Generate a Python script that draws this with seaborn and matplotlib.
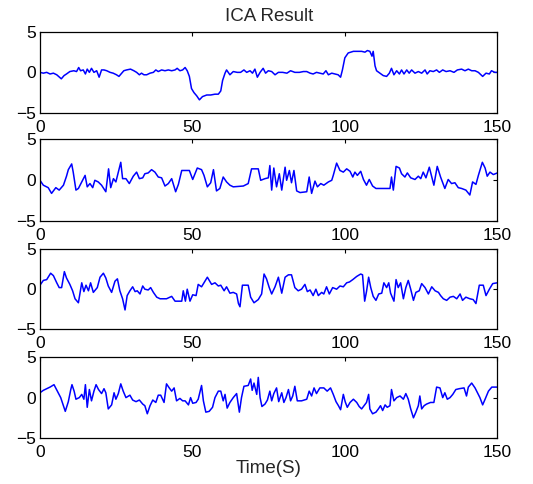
import numpy as np
import pandas as pd
import matplotlib
matplotlib.use("Agg")
import matplotlib.pyplot as plt
import seaborn as sns

sns.set_style("white")
plt.rcParams['font.family'] = ['Liberation Sans', 'DejaVu Sans']

# component 1: two block events
t1 = [0, 1.1, 2.2, 3.3, 4.4, 5.5, 7.0, 7.9, 8.7, 9.8, 11.1, 12.0, 12.7, 13.3, 14.2, 14.9, 15.5, 16.2,
      16.9, 17.7, 18.6, 19.4, 20.2, 21.0, 21.9, 23.0, 24.0, 25.1, 25.9, 26.8, 27.5, 28.4, 29.7, 30.8,
      31.7, 32.6, 33.3, 34.1, 35.0, 36.1, 37.2, 38.0, 38.8, 39.9, 41.0, 42.1, 43.2, 44.3, 45.0, 45.9,
      46.8, 47.6, 48.3, 49.0, 49.7, 50.5, 51.4, 52.3, 53.3, 54.7, 56.0, 57.4, 58.5, 59.3, 59.9, 60.7,
      61.2, 62.3, 63.4, 64.7, 65.8, 66.9, 67.8, 68.9, 69.7, 70.5, 71.3, 72.2, 73.2, 74.0, 74.9, 76.0,
      77.1, 78.2, 79.6, 81.0, 82.2, 83.6, 85.1, 86.4, 87.5, 88.6, 89.6, 90.7, 91.8, 92.9, 93.8, 94.6,
      95.7, 96.8, 97.8, 98.6, 99.2, 100.0, 101.1, 102.8, 104.4, 105.5, 106.6, 107.4, 108.2, 108.9,
      109.3, 109.9, 110.4, 111.5, 112.6, 113.7, 114.6, 115.3, 116.1, 117.0, 117.9, 118.6, 119.4,
      120.3, 121.1, 121.9, 123.0, 124.1, 125.2, 126.3, 127.0, 127.9, 129.0, 130.1, 131.0, 132.1,
      133.2, 134.5, 135.8, 136.9, 138.3, 139.4, 140.5, 141.6, 142.7, 143.8, 145.2, 146.3, 147.4,
      148.1, 149.2, 150]
s1 = [0.0, -0.1, 0.0, -0.2, -0.1, -0.3, -0.8, -0.4, -0.2, 0.1, 0.2, 0.1, 0.6, 0.2, 0.3, -0.2, 0.4, 0.0,
      0.5, 0.0, 0.2, -0.6, 0.3, 0.3, 0.2, 0.0, -0.1, -0.3, -0.5, -0.1, 0.2, 0.3, 0.4, 0.2,
      0.0, -0.3, -0.1, -0.3, -0.3, -0.1, 0.0, 0.3, 0.1, 0.3, 0.2, 0.3, 0.2, 0.3, 0.5, 0.2,
      0.3, 0.6, 0.2, -0.5, -2.0, -2.5, -2.9, -3.4, -3.0, -2.8, -2.8, -2.7, -2.7, -2.3, -1.0, -0.1,
      0.3, -0.3, 0.1, 0.0, 0.0, 0.3, 0.0, 0.2, -0.1, 0.4, -0.6, 0.0, 0.5, -0.1, 0.2, 0.1,
      -0.3, 0.0, 0.0, -0.1, 0.2, 0.0, 0.0, 0.1, 0.1, -0.1, -0.2, 0.0, -0.1, -0.2, 0.2, -0.3,
      -0.1, -0.2, -0.3, -0.6, 0.3, 1.8, 2.4, 2.6, 2.6, 2.6, 2.5, 2.7, 2.6, 2.0,
      2.6, 0.8, 0.2, -0.1, -0.4, -0.5, -0.1, 0.5, -0.3, 0.2, -0.2, 0.3, -0.2,
      0.3, -0.1, 0.3, -0.1, 0.1, -0.1, 0.3, -0.2, 0.2, 0.1, 0.3, 0.0, 0.3,
      0.1, 0.2, 0.0, 0.3, 0.4, 0.2, 0.4, 0.2, 0.2, 0.0, -0.5, -0.1, -0.2,
      0.2, 0.0, 0.0]

t2 = [0, 1.1, 2.7, 3.8, 5.2, 6.3, 7.7, 8.7, 9.3, 10.4, 10.9, 11.8, 12.6, 13.7, 14.8, 15.5, 16.4, 17.3,
      18.0, 19.1, 20.2, 21.6, 22.5, 23.2, 24.1, 24.9, 26.5, 27.1, 28.2, 29.3, 30.6, 31.7, 32.6, 33.7,
      34.4, 35.5, 36.6, 37.7, 38.8, 39.9, 41.0, 42.1, 43.2, 44.5, 45.4, 46.5, 49.0, 50.1, 51.6, 53.0,
      53.8, 54.9, 56.0, 56.9, 57.9, 59.0, 60.1, 61.2, 62.3, 63.4, 66.7, 68.3, 69.4, 71.6, 72.4, 73.8,
      74.9, 75.4, 76.0, 76.7, 77.6, 78.5, 79.3, 80.4, 80.9, 81.8, 82.5, 83.3, 84.2, 85.3, 87.5, 88.3,
      89.1, 90.2, 91.0, 92.1, 93.1, 94.6, 95.7, 96.2, 97.3, 98.4, 99.5, 100.6, 101.7, 102.6, 103.3,
      104.1, 105.2, 106.1, 107.1, 108.0, 109.1, 110.2, 114.8, 115.3, 115.9, 116.8, 117.9, 118.6,
      119.7, 120.5, 121.6, 123.0, 124.1, 124.9, 125.7, 126.6, 127.7, 128.5, 129.2, 130.3, 131.4,
      132.8, 133.9, 135.0, 136.1, 137.2, 138.3, 139.7, 141.0, 141.9, 143.0, 143.8, 145.1, 146.0,
      146.7, 147.6, 148.7, 150]
s2 = [0.0, -0.6, -0.9, -1.6, -0.9, -1.2, -0.6, 0.5, 1.3, 2.0, 1.0, -1.2, -1.0, -0.2, 0.6, -0.8, -0.4, -0.9,
      0.0, -0.2, -0.6, -1.4, 1.4, -0.9, 0.2, -0.2, 2.2, 0.2, 0.2, -0.4, 0.5, 1.0, 0.2, 0.3,
      0.8, 0.9, 1.3, 1.0, 0.4, 0.3, -0.7, -0.4, 0.2, -1.4, -0.5, 1.2, 1.2, 0.1, 1.5, 1.3,
      0.6, -0.8, -0.3, 1.3, -1.3, -1.0, 0.4, -0.2, -0.6, -0.8, -0.7, -0.4, 1.4, 1.4, 0.0, 0.2,
      0.3, 1.8, -1.2, 1.5, -0.8, 0.8, -1.2, 1.6, 0.0, 1.2, -0.3, 1.2, -1.3, -1.5, -1.4, 0.4,
      -1.6, -0.1, -0.8, -0.4, -0.6, -0.2, 0.0, 0.6, 2.1, 1.2, 1.0, 1.4, 1.1, 0.4, 1.0,
      0.6, 1.1, 0.1, -0.6, 0.1, -0.7, -1.0, -1.0, 0.4, -1.2, 1.7, 1.5, 0.8,
      0.4, 0.9, 0.3, 0.1, 0.5, 0.2, 1.0, 0.3, 1.6, 0.4, -0.6, 1.7, 0.4,
      -1.0, 0.1, -0.4, -0.3, -0.9, -1.0, -1.2, -1.8, -0.2, -0.5, 0.6, 2.2, 1.5,
      0.5, 1.0, 0.7, 0.9]

t3 = [0, 1.1, 2.2, 3.5, 4.4, 5.5, 6.3, 7.1, 8.0, 8.7, 9.8, 10.7, 11.5, 12.6, 13.7, 14.4, 15.1, 15.9,
      16.6, 17.5, 18.8, 19.7, 20.8, 21.6, 22.4, 23.5, 24.6, 25.4, 26.2, 27.1, 27.9, 28.6, 29.5, 30.4,
      31.2, 31.9, 32.8, 33.7, 34.4, 35.5, 36.3, 37.2, 38.3, 39.4, 41.5, 43.2, 44.3, 46.5, 47.0, 47.7,
      48.3, 49.2, 50.1, 51.2, 51.9, 53.0, 53.8, 54.9, 56.3, 57.4, 58.5, 59.3, 60.4, 61.2, 62.3, 63.4,
      64.5, 65.1, 65.6, 66.4, 68.3, 69.1, 70.2, 71.6, 72.7, 73.5, 74.3, 75.2, 76.0, 77.1, 78.2, 79.3,
      80.4, 81.5, 82.5, 83.6, 84.7, 85.8, 86.9, 87.7, 88.6, 89.6, 90.5, 91.3, 92.4, 93.1, 94.0, 94.9,
      96.0, 97.3, 98.4, 99.5, 100.6, 101.5, 102.6, 103.9, 105.2, 105.8, 106.5, 107.1, 107.8, 108.5,
      109.3, 110.2, 111.1, 112.1, 112.8, 113.7, 114.4, 115.0, 116.1, 116.8, 117.5, 118.3, 119.2,
      120.0, 120.8, 121.6, 122.5, 123.3, 124.4, 125.2, 126.3, 127.4, 128.5, 129.6, 130.7, 131.4,
      132.3, 133.4, 134.5, 135.6, 136.7, 137.8, 138.6, 139.7, 141.0, 142.1, 143.0, 144.1, 145.4,
      146.3, 147.4, 148.5, 150]
s3 = [0.5, 1.1, 1.2, 2.0, 1.7, 0.8, 0.2, 0.2, 2.2, 1.4, 0.6, -0.2, -1.2, -1.7, 0.8, -0.3, 0.5, -0.2,
      0.8, -0.4, 0.2, 1.5, 2.0, 1.4, 0.4, -0.4, 1.0, 1.3, -0.2, -1.2, -2.6, -0.8, -0.2, 0.3,
      -0.3, -0.2, -0.6, 0.4, 0.0, -0.1, 0.2, -0.4, -1.0, -1.2, -1.2, -0.9, -1.5, -1.5, -0.2, -1.5,
      0.0, -1.5, -0.7, -0.8, 0.6, 0.3, 0.8, 1.5, 0.6, 0.8, 0.4, 0.5, -0.2, 0.3, -0.5, -0.4,
      -0.6, -1.8, -2.2, 0.5, 0.5, -1.0, -1.7, -1.3, -0.6, 1.9, 1.3, 0.2, -0.6, 0.3, 1.5, -0.5,
      1.5, 1.8, 1.8, 0.2, -0.2, 0.0, 0.6, -0.3, -0.1, -0.8, 0.0, -0.8, -0.4, -0.6, 0.3, -0.6,
      0.2, 0.0, 0.4, 0.3, 0.8, 0.9, 1.2, 1.6, 1.9, 1.8, -1.5, -0.3, 1.5, 0.2,
      -0.9, -1.4, -0.6, -0.5, 0.8, 0.2, 0.8, -0.5, -1.5, 1.2, 0.2, 0.8, -1.2,
      0.2, 1.1, 0.0, -1.4, -0.4, -0.2, 0.7, 0.2, -0.6, 0.3, -0.2, -0.4, -0.8,
      -1.2, -1.4, -1.0, -0.9, -1.2, -0.6, -1.4, -1.0, -1.2, -1.3, -1.8, 0.5, 0.5,
      -0.8, 0.0, 0.7, 0.8]

t4 = [0, 1.1, 2.2, 3.3, 4.6, 5.7, 6.8, 7.7, 8.3, 9.3, 10.1, 10.5, 11.2, 11.8, 12.9, 13.7, 14.4, 14.9,
      15.5, 16.2, 16.9, 17.7, 18.4, 19.2, 20.2, 21.0, 21.6, 22.4, 23.5, 24.3, 24.9, 25.7, 26.5, 27.3,
      28.2, 29.5, 30.4, 31.5, 32.6, 33.7, 34.4, 35.2, 36.1, 37.0, 38.0, 38.8, 39.6, 40.7, 41.5, 42.4,
      43.2, 44.0, 44.8, 45.9, 46.8, 47.6, 48.7, 49.4, 50.1, 51.2, 51.9, 53.0, 53.6, 54.4, 55.5, 56.6,
      57.4, 58.5, 59.3, 60.1, 60.7, 61.4, 62.3, 63.4, 64.5, 65.4, 66.1, 66.9, 68.3, 69.1, 69.6, 70.2,
      71.1, 71.6, 72.2, 72.8, 73.8, 74.6, 75.4, 76.0, 76.7, 77.6, 78.3, 79.3, 80.0, 80.7, 81.5, 82.2,
      82.9, 83.6, 84.4, 85.8, 87.5, 88.3, 89.1, 89.9, 90.7, 91.8, 93.1, 94.2, 95.3, 96.2, 97.1, 97.9,
      98.6, 99.5, 100.1, 100.8, 101.7, 102.8, 103.9, 104.7, 105.5, 106.3, 107.1, 107.8, 108.2, 109.1,
      110.2, 111.0, 111.7, 112.4, 113.2, 113.9, 114.8, 115.3, 116.1, 117.0, 118.1, 119.2, 120.0,
      120.8, 121.6, 122.5, 123.3, 124.1, 124.6, 125.2, 126.0, 126.8, 128.1, 129.2, 130.1, 131.2,
      132.1, 132.8, 133.6, 134.5, 135.4, 136.4, 137.5, 139.1, 139.9, 140.5, 141.6, 142.7, 143.5,
      144.3, 145.2, 146.0, 147.1, 148.2, 150]
s4 = [0.6, 0.9, 1.1, 1.3, 1.6, 0.8, 0.0, -1.0, -1.7, -0.5, 1.0, 1.6, 0.8, -0.2, 0.0, 0.4, -0.2, 1.6,
      -1.2, 1.0, -0.4, 0.8, 1.6, 1.0, 0.5, 1.1, 0.6, -1.4, -0.9, 0.6, -0.2, 0.5, 1.7, 0.8,
      0.0, 0.3, -0.3, -0.5, -0.3, -0.8, -1.0, -2.0, -1.0, -0.3, -0.6, 0.3, 0.3, -0.6, 1.7, 1.2,
      0.8, 1.2, -0.4, -0.1, -0.4, -0.4, -0.9, 0.0, -0.7, -0.6, -0.2, 1.5, -0.4, -1.8, -1.7, -1.2,
      0.0, 0.8, 0.8, -0.4, 0.4, -1.3, -0.6, 0.0, 0.5, -1.8, 0.0, 1.4, 1.5, 2.3, 0.9, 1.8,
      0.4, 2.5, 0.0, -1.1, -0.8, -0.3, 0.8, -0.4, 0.5, 1.2, -0.5, 0.6, -0.6, 0.0, 1.0, -0.4,
      0.2, 1.4, -0.4, -0.4, -0.2, 0.8, 0.2, 1.2, 0.5, 1.2, 1.2, 0.8, 1.2, 0.4, -0.5, -1.0,
      -1.5, 0.4, -0.5, -1.2, -0.6, -0.2, -0.6, -1.1, -1.4, -1.0, -0.6, 0.4, -1.4, -2.0,
      -1.8, -1.4, -1.0, -1.6, -0.9, -1.2, -1.0, 1.0, -0.4, 0.0, 0.2, -0.2, 0.5,
      -0.2, -1.4, -2.5, -1.8, -1.0, 0.2, -1.4, -1.0, -0.8, -0.6, -0.6, 1.3, 1.2,
      0.0, 0.6, -0.2, 0.0, 0.4, 1.0, 1.1, 1.2, 0.2, 1.3, 1.8, 1.2, 0.6,
      0.0, -0.9, -0.2, 0.8, 1.3, 1.3]

comps = [(t1, s1), (t2, s2), (t3, s3), (t4, s4)]

fig = plt.figure(figsize=(5.33, 4.84), dpi=100)
boxes = [[0.075, 0.767, 0.858, 0.167],
         [0.075, 0.543, 0.858, 0.169],
         [0.075, 0.320, 0.858, 0.165],
         [0.075, 0.095, 0.858, 0.167]]

for i, (t, s) in enumerate(comps):
    ax = fig.add_axes(boxes[i])
    df = pd.DataFrame({'t': t, 'v': s})
    sns.lineplot(data=df, x='t', y='v', ax=ax, color='#0000ff', linewidth=1.1,
                 estimator=None, sort=False)
    ax.set_xlim(0, 150)
    ax.set_ylim(-5, 5)
    ax.set_xticks([0, 50, 100, 150])
    ax.set_yticks([-5, 0, 5])
    ax.set_xlabel('')
    ax.set_ylabel('')
    ax.tick_params(direction='in', length=3, width=0.8, top=True, right=True,
                   labelsize=12.5, colors='black')
    ax.tick_params(axis='x', pad=5)
    ax.tick_params(axis='y', pad=3)
    for sp in ax.spines.values():
        sp.set_color('black')
        sp.set_linewidth(0.9)
    if i == 0:
        ax.set_title('ICA Result', fontsize=13.5, pad=8)
    if i == 3:
        ax.set_xlabel('Time(S)', fontsize=13.5, labelpad=0)

fig.savefig('out.png', dpi=100)
